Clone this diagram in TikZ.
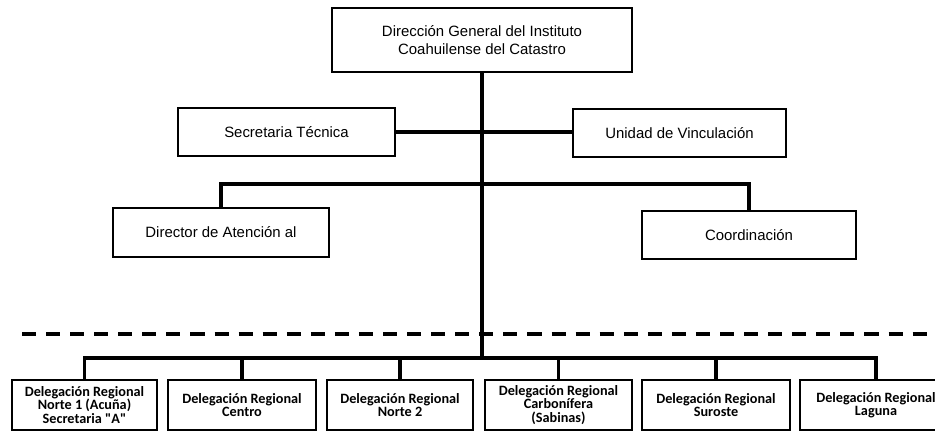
\documentclass[tikz,border=0pt]{standalone}
\usepackage{fontspec}
\setmainfont{Liberation Sans}
\newfontfamily\delfont{Carlito}
\usetikzlibrary{positioning,calc}

\begin{document}
\begin{tikzpicture}
[x=0.02cm,y=-0.02cm,
 box/.style={draw,line width=1.3pt,rectangle,inner sep=0pt,align=center,
   minimum height=0.96cm,font=\fontsize{8.5}{10.5}\selectfont},
 dbox/.style={draw,line width=1.3pt,rectangle,inner sep=0pt,align=center,
   minimum height=1cm,font=\delfont\bfseries\fontsize{8.1}{7.5}\selectfont},
 con/.style={line width=2pt},
 dashline/.style={line width=2pt,dash pattern=on 8pt off 5.7pt}]
\clip (0,0) rectangle (935,434);
\node[box,minimum width=6cm,minimum height=1.28cm] (dg) at (482,40) {Dirección General del Instituto\\Coahuilense del Catastro};
\node[box,minimum width=4.34cm] (sec) at (286.5,132) {Secretaria Técnica};
\node[box,minimum width=4.26cm] (uni) at (679.5,133) {Unidad de Vinculación};
\node[box,minimum width=4.32cm,minimum height=0.98cm] (dir) at (221,232.5) {Director de Atención al};
\node[box,minimum width=4.28cm] (coo) at (749,235) {Coordinación};
\node[dbox,minimum width=2.9cm] (d1) at (84.5,405) {Delegación Regional\\Norte 1 (Acuña)\\Secretaria "A"};
\node[dbox,minimum width=2.96cm] (d2) at (242,405) {Delegación Regional\\Centro};
\node[dbox,minimum width=2.92cm] (d3) at (400,405) {Delegación Regional\\Norte 2};
\node[dbox,minimum width=2.94cm] (d4) at (558.5,405) {Delegación Regional\\Carbonífera\\(Sabinas)};
\node[dbox,minimum width=2.96cm] (d5) at (716,405) {Delegación Regional\\Suroste};
\node[dbox,minimum width=3.04cm] (d6) at (876,405) {Delegación Regional\\Laguna};
\coordinate (b2) at (482,184);
\coordinate (b3) at (482,358);
\coordinate (dl) at (22,334);
\coordinate (dr) at (940,334);
\draw[con] (dg.south) -- (b3);
\draw[con] (sec.east) -- (sec.east -| uni.west);
\draw[con] (dir.north) |- (b2) -| (coo.north);
\draw[con] (d1.north) |- (b3) -| (d6.north);
\draw[con] (d2.north) -- (d2.north |- b3);
\draw[con] (d3.north) -- (d3.north |- b3);
\draw[con] (d4.north) -- (d4.north |- b3);
\draw[con] (d5.north) -- (d5.north |- b3);
\draw[dashline] (dl) -- (dr);
\end{tikzpicture}
\end{document}
